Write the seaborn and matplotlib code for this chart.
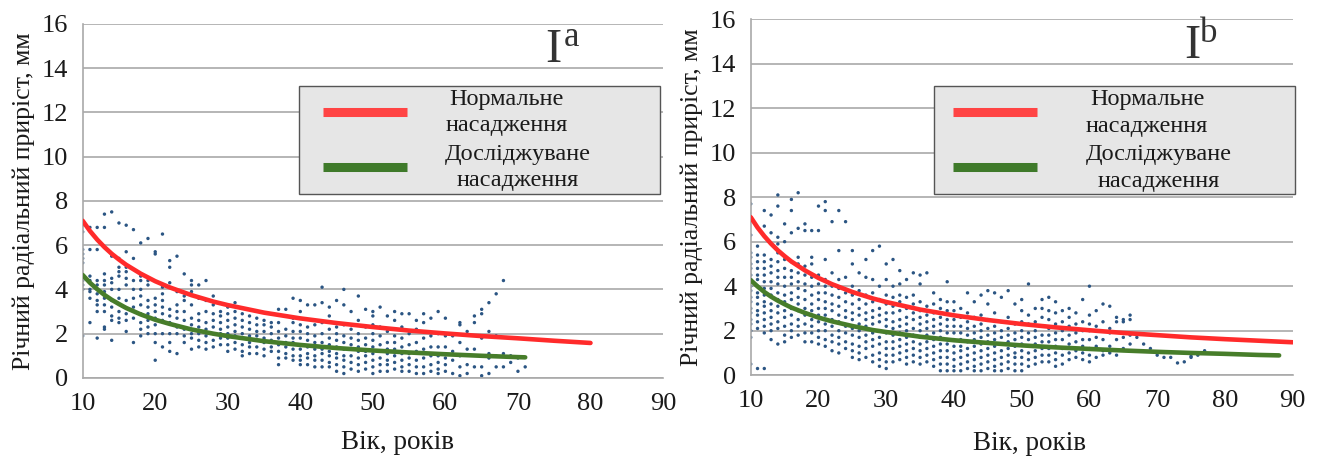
import numpy as np
import pandas as pd
import matplotlib
matplotlib.use("Agg")
import matplotlib.pyplot as plt
from matplotlib.lines import Line2D
from matplotlib.legend_handler import HandlerLine2D
import seaborn as sns

# ---------------- data ----------------
# Panel I^a: annual radial increment per age (one string of values per age)
a_ages = list(range(10, 72))
a_cols = [
    "1.9 4.0 4.2 4.4 4.6 5.2 5.4 5.6 5.8 6.6 6.9",
    "2.5 3.6 3.9 4.0 4.4 4.6 5.8 6.8",
    "1.8 3.0 3.3 3.5 3.8 4.2 4.4 5.8 6.8",
    "2.2 2.3 3.0 3.3 3.6 3.9 4.2 4.4 4.7 6.8 7.4",
    "1.7 2.6 2.8 3.2 3.5 4.0 4.3 4.5 5.5 7.5",
    "2.5 2.7 3.0 3.6 4.0 4.6 4.8 5.0 5.4 7.0",
    "2.1 2.6 2.9 3.5 4.2 4.5 4.8 5.0 5.7 6.9",
    "1.6 2.7 3.2 3.6 4.0 4.4 5.4 6.7",
    "1.9 2.2 2.5 2.9 3.3 3.7 4.0 4.4 4.6 6.1",
    "2.0 2.3 2.6 2.9 3.2 3.5 4.2 4.4 6.3",
    "0.8 1.6 2.0 2.4 2.7 3.0 3.3 3.6 5.6 5.7",
    "1.4 2.0 2.6 2.9 3.2 3.5 3.8 4.1 6.5",
    "1.2 1.6 2.0 2.5 2.8 3.1 4.3 5.0 5.3",
    "1.1 2.0 2.3 2.7 3.0 3.3 3.9 5.5",
    "1.6 1.9 2.2 2.6 3.0 3.5 3.7 4.7",
    "1.3 1.8 2.0 2.4 2.7 3.3 3.9 4.2 4.4",
    "1.4 1.7 2.0 2.3 2.6 2.9 3.6 4.2",
    "1.3 1.6 1.9 2.2 2.5 3.0 3.5 4.4",
    "1.4 1.7 2.0 2.3 2.6 2.9 3.3 3.7",
    "1.5 1.8 2.0 2.2 2.5 2.8 3.0",
    "1.2 1.5 1.8 2.0 2.3 2.6 2.9 3.2",
    "1.3 1.6 1.9 2.1 2.4 2.7 3.0 3.4",
    "1.0 1.2 1.5 1.8 2.0 2.3 2.6 2.9",
    "1.1 1.4 1.6 1.9 2.2 2.5 2.8",
    "1.1 1.4 1.7 1.9 2.1 2.4 2.7",
    "1.0 1.3 1.6 1.8 2.1 2.4 2.6",
    "1.2 1.4 1.7 2.0 2.3 2.5",
    "0.6 0.9 1.2 1.5 1.8 2.1 2.5 3.1",
    "0.9 1.1 1.4 1.6 1.9 2.2 2.8 3.1",
    "0.8 1.0 1.3 1.6 1.8 2.1 2.5 2.7 3.6",
    "0.6 0.8 1.0 1.3 1.5 1.8 2.1 2.4 3.0 3.5",
    "0.6 0.9 1.1 1.4 1.7 2.0 2.3 3.3",
    "0.5 0.8 1.0 1.3 1.6 1.9 2.4 3.3",
    "0.5 0.8 1.1 1.3 1.6 2.0 2.5 3.4 4.1",
    "0.5 0.7 1.0 1.2 1.5 1.8 2.2 2.8 3.2",
    "0.3 0.6 0.9 1.1 1.4 1.7 2.0 2.3 3.5",
    "0.2 0.5 0.8 1.0 1.3 1.6 1.9 2.4 3.3 4.0",
    "0.4 0.7 1.0 1.3 1.5 1.8 2.2 3.0",
    "0.3 0.6 0.9 1.2 1.4 1.7 2.0 2.6 3.7",
    "0.4 0.7 1.0 1.2 1.5 1.8 2.3 3.1",
    "0.2 0.5 0.8 1.1 1.4 1.7 2.0 2.4 2.8 3.0",
    "0.3 0.6 0.9 1.2 1.5 1.9 2.3 3.2",
    "0.3 0.6 0.8 1.1 1.3 1.6 2.1 2.8",
    "0.4 0.7 1.0 1.3 1.6 1.9 2.6 3.0",
    "0.3 0.5 0.8 1.1 1.4 1.8 2.3 2.9",
    "0.3 0.6 0.9 1.1 1.5 2.0 2.9",
    "0.2 0.5 0.8 1.2 1.6 2.2 2.6",
    "0.2 0.5 0.9 1.3 1.8 2.5 2.9",
    "0.3 0.6 1.0 1.4 1.9 2.7",
    "0.2 0.4 0.7 1.0 1.4 2.0 3.0",
    "0.3 0.6 0.9 1.4 1.9 2.7",
    "0.2 0.8 1.2 1.9",
    "0.1 0.5 1.0 1.6 2.4 2.5",
    "0.2 0.6 1.3 2.1",
    "0.5 1.3 2.5 2.8",
    "0.1 0.5 1.0 1.8 2.9 3.1",
    "0.2 0.9 1.1 2.1 3.4",
    "0.5 1.0 1.9 3.8",
    "0.5 1.1 4.4",
    "0.7 1.0",
    "0.3 0.9",
    "0.5",
]

# Panel I^b
b_ages = list(range(10, 78))
b_cols = [
    "0.5 1.7 2.0 2.3 2.5 2.8 3.0 3.3 3.5 3.8 4.0 4.3 4.5 4.8 5.0 5.3 5.5 6.3 7.7",
    "0.3 2.1 2.4 2.7 2.9 3.2 3.5 3.7 4.0 4.3 4.5 4.8 5.1 5.4 5.8",
    "0.3 1.9 2.2 2.5 2.8 3.1 3.3 3.6 3.9 4.2 4.5 4.8 5.1 5.4 6.7 7.4",
    "1.6 2.0 2.3 2.6 2.9 3.2 3.6 3.9 4.2 4.6 4.9 5.2 6.4 7.2",
    "1.4 2.1 2.4 2.8 3.1 3.4 3.7 4.1 4.4 4.7 5.1 5.5 5.9 6.2 7.6 8.1",
    "1.5 1.8 2.2 2.6 2.9 3.3 3.6 4.0 4.4 4.8 5.2 6.0 6.8",
    "1.7 2.0 2.3 2.7 3.0 3.4 3.7 4.1 4.4 4.7 5.1 6.4 7.4 7.9",
    "1.8 2.2 2.5 2.9 3.2 3.5 3.9 4.2 4.6 5.0 5.3 6.6 8.2",
    "1.5 1.9 2.3 2.7 3.0 3.4 3.8 4.1 4.5 4.9 6.5 6.8",
    "1.5 1.9 2.2 2.5 2.9 3.2 3.6 4.0 4.4 5.0 5.3 6.5",
    "1.4 1.7 2.0 2.4 2.7 3.0 3.4 3.7 4.1 4.5 6.5 7.6",
    "1.3 1.6 2.0 2.3 2.7 3.0 3.3 3.7 4.0 4.3 5.2 7.4 7.8",
    "1.1 1.5 1.8 2.2 2.5 2.9 3.2 3.6 4.0 4.6 6.9",
    "1.0 1.4 1.7 2.0 2.4 2.7 3.1 3.5 3.9 4.3 5.6 7.4",
    "1.2 1.5 1.9 2.2 2.6 2.9 3.3 3.7 4.4 6.9",
    "0.8 1.1 1.4 1.8 2.1 2.5 2.8 3.2 3.6 4.0 5.0 5.6",
    "0.7 1.0 1.3 1.7 2.0 2.3 2.7 3.0 3.4 3.8 4.6",
    "0.8 1.2 1.5 1.8 2.2 2.5 2.8 3.2 3.6 4.4 5.2",
    "0.6 0.9 1.3 1.6 1.9 2.3 2.6 2.9 3.3 3.7 4.3 5.6",
    "0.4 0.7 1.0 1.4 1.7 2.0 2.4 2.7 3.0 3.4 4.0 5.8",
    "0.3 0.6 0.9 1.2 1.5 1.9 2.2 2.5 2.8 3.2 3.6 4.3 5.0",
    "0.6 0.9 1.2 1.5 1.8 2.1 2.4 2.8 3.1 3.5 4.0 5.2",
    "0.7 1.0 1.3 1.6 1.9 2.2 2.5 2.9 3.3 3.6 4.1 4.7",
    "0.5 0.8 1.1 1.4 1.7 2.0 2.3 2.6 3.0 3.5 4.3",
    "0.6 0.9 1.2 1.5 1.8 2.1 2.5 2.8 3.2 3.6 4.6",
    "0.5 0.8 1.1 1.4 1.7 2.0 2.3 2.6 2.9 3.3 4.1 4.5",
    "0.6 0.9 1.2 1.5 1.8 2.1 2.4 2.7 3.1 4.6",
    "0.4 0.7 1.0 1.3 1.6 1.9 2.2 2.5 2.8 3.2 3.7",
    "0.2 0.5 0.8 1.1 1.4 1.7 2.0 2.3 2.6 3.0 3.4",
    "0.2 0.5 0.8 1.1 1.4 1.6 1.9 2.2 2.5 2.9 3.3 4.2",
    "0.2 0.4 0.7 1.0 1.3 1.6 1.9 2.2 2.5 2.9 3.3",
    "0.2 0.5 0.8 1.1 1.3 1.6 1.9 2.2 2.6 3.0",
    "0.3 0.6 0.9 1.2 1.5 1.8 2.1 2.4 2.8 3.7",
    "0.2 0.4 0.7 1.0 1.3 1.6 1.9 2.2 2.6 3.3",
    "0.2 0.5 0.8 1.1 1.4 1.7 2.0 2.3 2.7 3.6",
    "0.3 0.6 0.9 1.2 1.5 1.8 2.1 2.5 3.2 3.8",
    "0.2 0.4 0.7 1.0 1.3 1.6 1.9 2.2 2.8 3.7",
    "0.2 0.5 0.8 1.1 1.4 1.7 2.0 2.4 3.5",
    "0.3 0.6 0.9 1.2 1.5 1.8 2.1 2.6 3.8",
    "0.2 0.5 0.8 1.0 1.3 1.6 1.9 2.3 3.2",
    "0.2 0.5 0.8 1.1 1.4 1.7 2.0 2.4 2.9 3.4",
    "0.4 0.7 1.0 1.3 1.6 1.9 2.3 2.7 4.1",
    "0.5 0.8 1.1 1.4 1.7 2.0 2.4 3.0",
    "0.6 0.9 1.2 1.5 1.8 2.2 2.6 3.0 3.4",
    "0.6 0.9 1.2 1.5 1.8 2.1 2.5 2.9 3.5",
    "0.4 0.7 1.0 1.3 1.6 1.9 2.3 2.8 3.3",
    "0.5 0.9 1.2 1.6 2.0 2.4 2.9",
    "0.7 1.0 1.4 1.8 2.2 2.6 3.0",
    "0.8 1.1 1.5 1.9 2.3 2.8",
    "0.7 1.0 1.3 1.6 2.0 2.4 3.4",
    "0.6 0.9 1.2 1.6 2.0 2.3 2.7 4.0",
    "0.8 1.3 1.7 2.2 2.9",
    "0.9 1.1 1.6 2.4 3.2",
    "1.0 1.3 1.9 2.1 3.1",
    "0.9 1.6 2.4 2.6",
    "1.2 1.7 2.4 2.5",
    "1.4 1.8 2.5 2.7",
    "1.7",
    "1.4",
    "1.2",
    "0.9",
    "0.8",
    "0.8",
    "0.55",
    "0.6",
    "0.8 0.85",
    "0.9",
    "1.1",
]

# Trend curves
a_norm_x = [10, 11, 12, 13, 14, 15, 16, 18, 20, 22, 25, 28, 30, 35, 40, 45, 50, 55, 60, 65, 70, 75, 80]
a_norm_y = [7.10, 6.64, 6.25, 5.91, 5.61, 5.35, 5.11, 4.71, 4.37, 4.09, 3.74, 3.45, 3.29, 2.95, 2.69,
            2.48, 2.30, 2.14, 2.01, 1.89, 1.79, 1.68, 1.58]
a_stud_x = [10, 11, 12, 13, 14, 15, 16, 18, 20, 22, 25, 28, 30, 35, 40, 45, 50, 55, 60, 65, 70, 71]
a_stud_y = [4.65, 4.30, 4.01, 3.75, 3.53, 3.34, 3.16, 2.87, 2.63, 2.44, 2.19, 2.00, 1.89, 1.66, 1.49,
            1.35, 1.24, 1.15, 1.07, 1.00, 0.94, 0.93]
b_norm_x = [10, 11, 12, 13, 14, 15, 16, 18, 20, 22, 25, 28, 30, 35, 40, 45, 50, 55, 60, 65, 70, 75, 80, 85, 90]
b_norm_y = [7.10, 6.64, 6.25, 5.91, 5.61, 5.35, 5.11, 4.71, 4.37, 4.09, 3.74, 3.45, 3.29, 2.95, 2.69,
            2.48, 2.30, 2.15, 2.02, 1.90, 1.80, 1.70, 1.62, 1.55, 1.48]
b_stud_x = [10, 11, 12, 13, 14, 15, 16, 18, 20, 22, 25, 28, 30, 35, 40, 45, 50, 55, 60, 65, 70, 75, 80, 85, 88]
b_stud_y = [4.27, 3.99, 3.74, 3.53, 3.35, 3.19, 3.04, 2.80, 2.59, 2.42, 2.21, 2.03, 1.94, 1.73, 1.57,
            1.45, 1.34, 1.25, 1.18, 1.11, 1.05, 1.00, 0.96, 0.91, 0.89]

legend_labels = ["Нормальне\nнасадження", "Досліджуване\nнасадження"]
panel_letters = ["a", "b"]
x_label = "Вік, років"
y_label = "Річний радіальний приріст, мм"
x_ticks = [10, 20, 30, 40, 50, 60, 70, 80, 90]
y_ticks = [0, 2, 4, 6, 8, 10, 12, 14, 16]


def to_frame(ages, cols):
    xs, ys = [], []
    for age, s in zip(ages, cols):
        for v in s.split():
            xs.append(age)
            ys.append(float(v))
    return pd.DataFrame({"age": xs, "inc": ys})


# ---------------- styling ----------------
sns.set_style("white")
FAM = ["Liberation Serif", "DejaVu Serif"]
plt.rcParams["font.family"] = FAM

RED = "#ff2b2b"
GREEN = "#477d2a"
DOT = "#2b5583"
GRID = "#a9a9a9"
TXT = "#1a1a1a"
FS_LEG = 17.5
FS_PX = FS_LEG * 100 / 72.0

fig = plt.figure(figsize=(13.25, 4.57), dpi=100)
ax_a = fig.add_axes([0.0624, 0.173, 0.438, 0.775])
ax_b = fig.add_axes([0.5666, 0.179, 0.409, 0.779])

panels = [
    (ax_a, to_frame(a_ages, a_cols), (a_norm_x, a_norm_y), (a_stud_x, a_stud_y),
     (0.373, 0.511, 0.622, 0.314), (0.797, 0.893), (0.829, 0.938), 24, 146, 0.542, 11),
    (ax_b, to_frame(b_ages, b_cols), (b_norm_x, b_norm_y), (b_stud_x, b_stud_y),
     (0.338, 0.503, 0.667, 0.309), (0.800, 0.890), (0.829, 0.935), 19, 152, 0.515, 13.5),
]

for i, (ax, df, norm, stud, lbox, ipos, spos, hstart, tstart, xlx, xlpad) in enumerate(panels):
    ax.set_xlim(10, 90)
    ax.set_ylim(0, 16)
    ax.set_xticks(x_ticks)
    ax.set_yticks(y_ticks)
    ax.yaxis.grid(True, color=GRID, lw=1.2)
    ax.xaxis.grid(False)
    ax.set_axisbelow(True)
    for side in ("top", "right"):
        ax.spines[side].set_visible(False)
    for side in ("left", "bottom"):
        ax.spines[side].set_color(GRID)
        ax.spines[side].set_linewidth(1.2)
    ax.tick_params(axis="both", which="major", direction="out", length=5.5, width=1.2,
                   color=GRID, labelsize=19, labelcolor=TXT, pad=5)

    sns.scatterplot(data=df, x="age", y="inc", ax=ax, s=6, color=DOT,
                    edgecolor="none", linewidth=0, legend=False, zorder=2)
    sns.lineplot(x=norm[0], y=norm[1], ax=ax, color=RED, lw=3.3, estimator=None,
                 sort=False, legend=False, zorder=3)
    sns.lineplot(x=stud[0], y=stud[1], ax=ax, color=GREEN, lw=3.3, estimator=None,
                 sort=False, legend=False, zorder=3)

    ax.set_xlabel(x_label, fontsize=19.5, color=TXT, labelpad=xlpad)
    ax.xaxis.label.set_x(xlx)
    ax.set_ylabel(y_label, fontsize=18.5, color=TXT, labelpad=5)

    handles = [Line2D([], [], color="#ff4444", lw=6.5, solid_capstyle="butt"),
               Line2D([], [], color="#3f7a2a", lw=6.5, solid_capstyle="butt")]
    bpad = 0.12
    xpad = (hstart - bpad * FS_PX) / FS_PX
    hmap = {h: HandlerLine2D(xpad=xpad) for h in handles}
    leg = ax.legend(handles, legend_labels, loc="upper left", bbox_to_anchor=lbox,
                    mode="expand", borderaxespad=0, handlelength=(84 / FS_PX) + xpad,
                    handletextpad=(tstart - hstart - 84) / FS_PX, labelspacing=0.3,
                    borderpad=bpad, frameon=True, fancybox=False, facecolor="#e6e6e6",
                    edgecolor="#555555", framealpha=1, handler_map=hmap,
                    prop={"size": FS_LEG})
    leg.get_frame().set_linewidth(1.0)
    for t in leg.get_texts():
        t.set_multialignment("center")
        t.set_linespacing(1.35)
        t.set_color(TXT)

    ax.text(ipos[0], ipos[1], "I", transform=ax.transAxes, fontsize=35,
            color="#333333", ha="left", va="baseline")
    ax.text(spos[0], spos[1], panel_letters[i], transform=ax.transAxes, fontsize=25,
            color="#333333", ha="left", va="baseline")

fig.savefig("out.png", dpi=100)
